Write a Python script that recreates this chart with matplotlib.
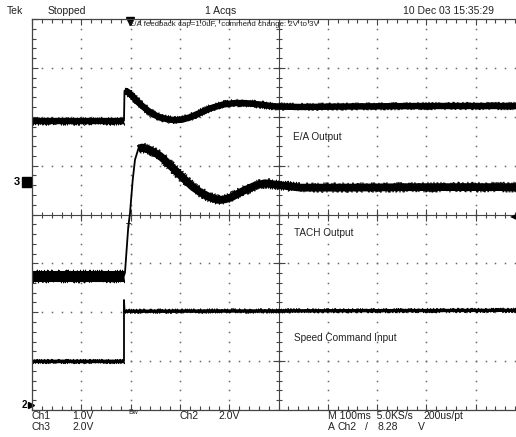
import numpy as np
import matplotlib
matplotlib.use("Agg")
import matplotlib.pyplot as plt
from matplotlib.patches import Rectangle

plt.rcParams['font.family'] = ['Liberation Sans', 'DejaVu Sans']

# time in ms from left edge of screen (100 ms/div), level in screen divisions
ea_t = [0, 186.6, 187.6, 192.7, 204.9, 219.1, 233.3, 245.4, 259.6, 273.8, 290.1, 304.3,
        320.5, 340.8, 361.1, 387.4, 411.8, 432.0, 462.5, 492.9, 543.6, 645.0, 787.0, 1000]
ea_v = [1.92, 1.92, 2.53, 2.52, 2.41, 2.26, 2.14, 2.05, 1.99, 1.95, 1.93, 1.94,
        1.99, 2.08, 2.17, 2.25, 2.28, 2.28, 2.25, 2.21, 2.20, 2.21, 2.22, 2.22]

tach_t = [0, 186.6, 188.6, 195.3, 198.8, 204.3, 208.9, 215.6, 223.1, 239.4, 259.6, 279.9,
          294.1, 310.3, 326.6, 340.8, 361.1, 377.3, 391.5, 405.7, 428.0, 452.3, 472.6,
          503.0, 543.6, 645.0, 787.0, 1000]
tach_v = [-1.25, -1.25, -1.19, -0.25, 0.03, 0.71, 1.12, 1.34, 1.37, 1.32, 1.20, 1.01,
          0.87, 0.71, 0.56, 0.46, 0.35, 0.30, 0.31, 0.36, 0.48, 0.59, 0.64,
          0.60, 0.55, 0.55, 0.56, 0.56]

speed_t = [0, 186.6, 186.6, 187.8, 1000]
speed_v = [-2.99, -2.99, -1.75, -1.98, -1.96]

W, H = 516, 437


def px(x, y):
    return x / W, 1 - y / H


def noisy(t, v, core, fuzz):
    # solid core plus a jittered hairline for the acquisition noise
    ax.plot(t, v, color='black', lw=core, solid_capstyle='butt')
    for k in range(2):
        ln, = ax.plot(t, v, color='black', lw=0.7)
        ln.set_sketch_params(fuzz, 0.8 + 0.4 * k, 3)


fig = plt.figure(figsize=(W / 100, H / 100), dpi=100)
ax = fig.add_axes([32 / W, 27 / H, 493 / W, 391 / H])
ax.set_xlim(0, 1000)
ax.set_ylim(-4, 4)

# graticule
grid_col = '#6a6a6a'
ys = np.arange(-4, 4.001, 0.2)
xs = np.arange(0, 1000.1, 20)
for t in range(100, 1000, 100):
    if t != 500:
        ax.plot([t] * len(ys), ys, ls='none', marker='s', ms=1.1, color=grid_col, mew=0)
for y in range(-3, 4):
    if y != 0:
        ax.plot(xs, [y] * len(xs), ls='none', marker='s', ms=1.1, color=grid_col, mew=0)
ax.axhline(0, color='#444', lw=0.8)
ax.axvline(500, color='#444', lw=0.8)
ax.plot(xs, [0] * len(xs), ls='none', marker='|', ms=5, mew=0.8, color='#444')
ax.plot([500] * len(ys), ys, ls='none', marker='_', ms=5, mew=0.8, color='#444')
ax.plot(range(0, 1001, 100), [0] * 11, ls='none', marker='|', ms=9, mew=0.8, color='#444')
ax.plot([500] * 9, range(-4, 5), ls='none', marker='_', ms=9, mew=0.8, color='#444')

ax.set_xticks(range(0, 1001, 100))
ax.set_xticks(xs, minor=True)
ax.set_yticks(range(-4, 5))
ax.set_yticks(ys, minor=True)
ax.tick_params(which='both', direction='in', top=True, bottom=True, left=True, right=False,
               labelbottom=False, labelleft=False, color='#444', width=0.8)
ax.tick_params(which='major', length=4)
ax.tick_params(which='minor', length=3)
for s in ax.spines.values():
    s.set_color('#444')
    s.set_linewidth(0.9)

# traces: thin line for the whole record, heavy noisy band elsewhere
ax.plot(ea_t, ea_v, color='black', lw=1.3)
noisy(ea_t[:2], ea_v[:2], 4.6, 3.8)
noisy(ea_t[2:], ea_v[2:], 4.6, 3.8)

ax.plot(tach_t, tach_v, color='black', lw=1.3)
noisy(tach_t[:2], tach_v[:2], 8.0, 6.5)
noisy(tach_t[7:], tach_v[7:], 5.6, 5.0)

ax.plot(speed_t, speed_v, color='black', lw=1.3)
noisy(speed_t[:2], speed_v[:2], 2.4, 2.2)
noisy(speed_t[3:], speed_v[3:], 2.4, 2.2)

# markers
ax.plot([199], [3.95], marker='v', ms=6, color='black', clip_on=False)
ax.text(195, -0.25, 'T', fontsize=6, fontweight='bold', ha='center', va='center')
fig.text(*px(14, 182), '3', fontsize=8, fontweight='bold', ha='left', va='center')
fig.patches.append(Rectangle(px(22, 187), 9 / W, 10 / H, transform=fig.transFigure,
                             color='black'))
fig.text(*px(22, 405), '2', fontsize=7, fontweight='bold', ha='left', va='center')
ax.plot([-3], [-3.9], marker='>', ms=4, color='black', clip_on=False)
fig.text(*px(516, 218), '\u25c0', fontsize=6, ha='right', va='center')

tc = '#222222'
fs = 7.5
fig.text(*px(7, 11), 'Tek', fontsize=fs, color=tc, va='center')
fig.text(*px(48, 11), 'Stopped', fontsize=fs, color=tc, va='center')
fig.text(*px(205, 11), '1 Acqs', fontsize=fs, color=tc, va='center')
fig.text(*px(403, 11), '10 Dec 03 15:35:29', fontsize=fs, color=tc, va='center')
fig.text(*px(129, 25), 'E/A feedback cap=1.0uF,  commend change: 2V to 3V',
         fontsize=5.7, color=tc, va='center')

fl = 7.2
fig.text(*px(293, 137), 'E/A Output', fontsize=fl, color=tc, va='center')
fig.text(*px(294, 233), 'TACH Output', fontsize=fl, color=tc, va='center')
fig.text(*px(294, 338), 'Speed Command Input', fontsize=fl, color=tc, va='center')

fb = 7.5
fig.text(*px(32, 416), 'Ch1', fontsize=fb, color=tc, va='center')
fig.text(*px(72, 416), '1.0V', fontsize=fb, color=tc, va='center')
fig.text(*px(128, 412), 'Bw', fontsize=5, color=tc, va='center')
fig.text(*px(180, 416), 'Ch2', fontsize=fb, color=tc, va='center')
fig.text(*px(218, 416), '2.0V', fontsize=fb, color=tc, va='center')
fig.text(*px(328, 416), 'M 100ms  5.0KS/s', fontsize=fb, color=tc, va='center')
fig.text(*px(423, 416), '200us/pt', fontsize=fb, color=tc, va='center')
fig.text(*px(32, 427), 'Ch3', fontsize=fb, color=tc, va='center')
fig.text(*px(72, 427), '2.0V', fontsize=fb, color=tc, va='center')
fig.text(*px(328, 427), 'A', fontsize=fb, color=tc, va='center')
fig.text(*px(338, 427), 'Ch2', fontsize=fb, color=tc, va='center')
fig.text(*px(365, 427), '/', fontsize=fb, color=tc, va='center')
fig.text(*px(377, 427), '8.28', fontsize=fb, color=tc, va='center')
fig.text(*px(418, 427), 'V', fontsize=fb, color=tc, va='center')

fig.savefig('out.png', dpi=100)
